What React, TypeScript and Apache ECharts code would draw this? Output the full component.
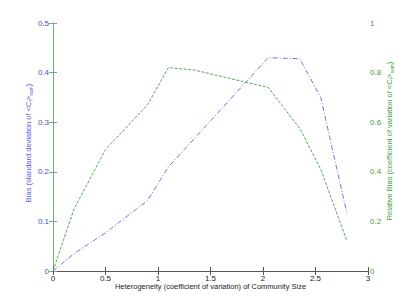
import React, { useEffect, useRef } from "react";
import * as echarts from "echarts";

const xValues = [0, 0.2, 0.5, 0.9, 1.1, 1.35, 2.05, 2.35, 2.55, 2.8];
const biasValues = [0, 0.035, 0.077, 0.142, 0.21, 0.268, 0.43, 0.428, 0.35, 0.115];
const relBiasValues = [0, 0.25, 0.49, 0.67, 0.82, 0.81, 0.74, 0.575, 0.41, 0.12];
const xTicks = [0, 0.5, 1, 1.5, 2, 2.5, 3];

const FONT = "Liberation Sans, Arial, sans-serif";
const leftName = "Bias (standard deviation of <C{sub|f}>{sub|sum})";
const rightName = "Relative Bias (coefficient of variation of <C{sub|f}>{sub|sum})";

export default function App() {
  const ref = useRef<HTMLDivElement>(null);
  useEffect(() => {
    if (!ref.current) return;
    const chart = echarts.init(ref.current, null, { renderer: "svg" });
    const subRich = (color: string) => ({
      sub: { fontSize: 5, fontFamily: FONT, fill: color, verticalAlign: "bottom", padding: [5, 0, 0, 0] },
    });
    chart.setOption({
      animation: false,
      backgroundColor: "#ffffff",
      grid: { left: 53, right: 39, top: 23, bottom: 34 },
      graphic: [
        {
          type: "text",
          x: 28,
          y: 143,
          rotation: Math.PI / 2,
          style: {
            text: leftName,
            fill: "#5a5ae6",
            fontSize: 7.5,
            fontFamily: FONT,
            align: "center",
            verticalAlign: "middle",
            rich: subRich("#5a5ae6"),
          },
        },
        {
          type: "text",
          x: 389,
          y: 141,
          rotation: Math.PI / 2,
          style: {
            text: rightName,
            fill: "#3f9a3f",
            fontSize: 7.5,
            fontFamily: FONT,
            align: "center",
            verticalAlign: "middle",
            rich: subRich("#3f9a3f"),
          },
        },
      ],
      xAxis: [
        {
          type: "value",
          min: 0,
          max: 3,
          interval: 0.5,
          position: "bottom",
          name: "Heterogeneity (coefficient of variation) of Community Size",
          nameLocation: "middle",
          nameGap: 11,
          nameMoveOverlap: false,
          nameTextStyle: { color: "#222", fontSize: 7.5, fontFamily: FONT },
          axisLine: { lineStyle: { color: "#555", width: 1 } },
          axisTick: { inside: true, length: 4, lineStyle: { color: "#555" } },
          axisLabel: {
            color: "#222",
            fontSize: 8,
            fontFamily: FONT,
            margin: 3,
            formatter: (v: number) => (xTicks.includes(v) ? String(v) : ""),
          },
          splitLine: { show: false },
        },
        {
          type: "value",
          min: 0,
          max: 3,
          interval: 0.5,
          position: "top",
          axisLine: { lineStyle: { color: "#555", width: 1 } },
          axisTick: { inside: true, length: 4, lineStyle: { color: "#555" } },
          axisLabel: { show: false },
          splitLine: { show: false },
        },
      ],
      yAxis: [
        {
          type: "value",
          min: 0,
          max: 0.5,
          interval: 0.1,
          position: "left",
          axisLine: { show: true, lineStyle: { color: "#d8d8ff", width: 1 } },
          axisTick: { show: true, inside: true, length: 4, lineStyle: { color: "#8888ee" } },
          axisLabel: { color: "#4a4ae0", fontSize: 8, fontFamily: FONT, margin: 4 },
          splitLine: { show: false },
        },
        {
          type: "value",
          min: 0,
          max: 1,
          interval: 0.2,
          position: "right",
          axisLine: { show: true, lineStyle: { color: "#66b866", width: 1 } },
          axisTick: { show: true, inside: true, length: 4, lineStyle: { color: "#66b866" } },
          axisLabel: { color: "#3f9a3f", fontSize: 8, fontFamily: FONT, margin: 2 },
          splitLine: { show: false },
        },
      ],
      series: [
        {
          type: "line",
          name: "Bias",
          xAxisIndex: 0,
          yAxisIndex: 0,
          data: xValues.map((x, i) => [x, biasValues[i]]),
          symbol: "none",
          lineStyle: { color: "#7474e8", width: 1, type: [5, 2, 1, 2] },
        },
        {
          type: "line",
          name: "Relative Bias",
          xAxisIndex: 0,
          yAxisIndex: 1,
          data: xValues.map((x, i) => [x, relBiasValues[i]]),
          symbol: "none",
          lineStyle: { color: "#55a855", width: 1, type: [3, 1.5] },
        },
      ],
    });
    return () => chart.dispose();
  }, []);
  return (
    <div
      ref={ref}
      style={{ position: "fixed", left: 0, top: 0, width: 407, height: 305 }}
    />
  );
}
